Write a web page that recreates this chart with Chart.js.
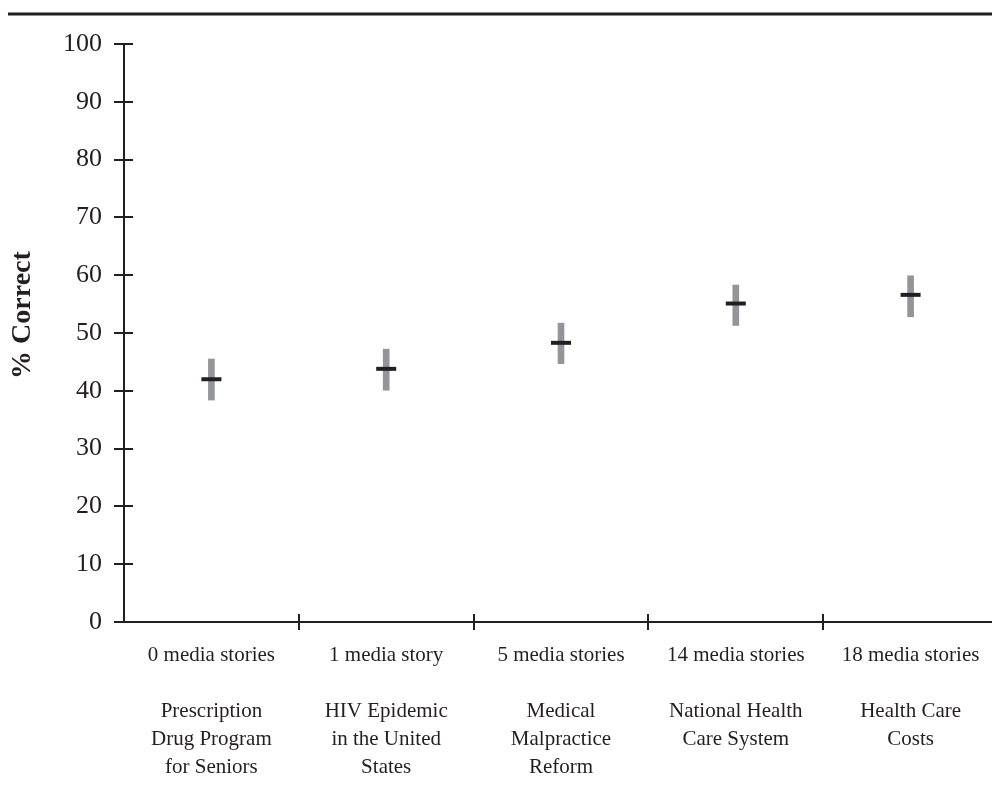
<!DOCTYPE html>
<html>
<head>
<meta charset="utf-8">
<script src="https://cdn.jsdelivr.net/npm/chart.js@4"></script>
<style>
html,body{margin:0;padding:0;background:#fff;overflow:hidden;}
#wrap{width:1000px;height:790px;}
</style>
</head>
<body>
<div id="wrap"><canvas id="chart" width="1000" height="790"></canvas></div>
<script>
const stories=["0 media stories","1 media story","5 media stories","14 media stories","18 media stories"];
const topics=[
    ["Prescription","Drug Program","for Seniors"],
    ["HIV Epidemic","in the United","States"],
    ["Medical","Malpractice","Reform"],
    ["National Health","Care System"],
    ["Health Care","Costs"]
];
const means=[42.0,43.8,48.3,55.1,56.6];
const lows=[38.4,40.1,44.7,51.3,52.8];
const highs=[45.5,47.2,51.7,58.3,59.9];
const yTicks=[0,10,20,30,40,50,60,70,80,90,100];
const yTitle="% Correct";

const ink="#231f20";
const serif="'Liberation Serif', 'Times New Roman', serif";

const labels=stories.map((s,i)=>[s,""].concat(topics[i]));

// tick marks crossing the axes, y title, rule at the top
const axisMarks={
    id:"axisMarks",
    afterDraw(chart){
        const c=chart.ctx,x=chart.scales.x,y=chart.scales.y;
        c.save();
        c.strokeStyle=ink;
        c.lineWidth=3;
        c.beginPath();c.moveTo(8,14);c.lineTo(1000,14);c.stroke();
        c.lineWidth=2;
        yTicks.forEach(v=>{
            const py=Math.round(y.getPixelForValue(v));
            c.beginPath();c.moveTo(x.left-10,py);c.lineTo(x.left+9,py);c.stroke();
        });
        const step=x.width/labels.length;
        for(let k=1;k<labels.length;k++){
            const px=Math.round(x.left+k*step);
            c.beginPath();c.moveTo(px,y.bottom-8);c.lineTo(px,y.bottom+8);c.stroke();
        }
        c.translate(23,y.top+(y.bottom-y.top)/2-18);
        c.rotate(-Math.PI/2);
        c.fillStyle=ink;
        c.font="bold 28px "+serif;
        c.textAlign="center";
        c.textBaseline="middle";
        c.fillText(yTitle,0,0);
        c.restore();
    }
};

new Chart(document.getElementById("chart"),{
    type:"bar",
    data:{
        labels:labels,
        datasets:[
            {
                type:"line",
                data:means,
                showLine:false,
                pointStyle:"line",
                pointRadius:10,
                pointHoverRadius:10,
                borderWidth:4,
                borderColor:ink,
                backgroundColor:ink,
                order:0
            },
            {
                data:lows.map((l,i)=>[l,highs[i]]),
                backgroundColor:"#939598",
                borderWidth:0,
                barThickness:6,
                order:1
            }
        ]
    },
    options:{
        responsive:false,
        animation:false,
        events:[],
        layout:{autoPadding:false,padding:{top:44,right:2,left:0,bottom:0}},
        plugins:{legend:{display:false},tooltip:{enabled:false}},
        scales:{
            x:{
                offset:true,
                grid:{display:false,drawTicks:false},
                border:{display:true,color:ink,width:2},
                ticks:{color:ink,padding:20,maxRotation:0,autoSkip:false,font:{family:serif,size:21,lineHeight:1.33}},
                afterFit(s){s.height=168;s.paddingLeft=0;s.paddingRight=0;}
            },
            y:{
                min:0,max:100,
                afterBuildTicks(s){s.ticks=yTicks.map(v=>({value:v}));},
                grid:{display:false,drawTicks:false},
                border:{display:true,color:ink,width:2},
                ticks:{color:ink,padding:22,font:{family:serif,size:26}},
                afterFit(s){s.width=124;}
            }
        }
    },
    plugins:[axisMarks]
});
</script>
</body>
</html>
